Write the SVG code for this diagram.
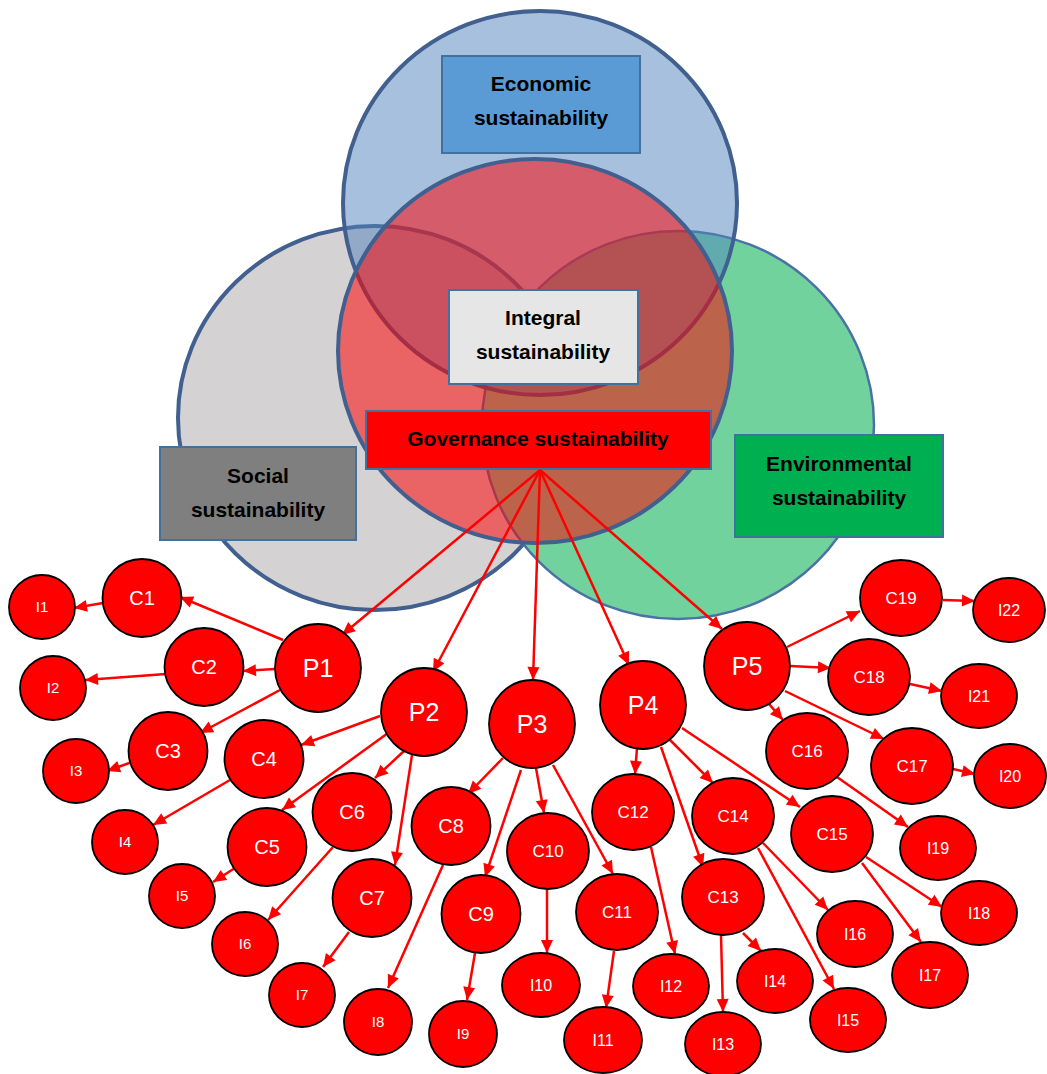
<svg xmlns="http://www.w3.org/2000/svg" width="1047" height="1074" viewBox="0 0 1047 1074">
<style>
.ell{stroke:#41608F;stroke-width:4}
.box{stroke:#41719C;stroke-width:2}
.bt{font-family:"Liberation Sans",Arial,sans-serif;font-weight:bold;font-size:21px;fill:#000;text-anchor:middle}
.n{fill:#FF0000;stroke:#000;stroke-width:1.8}
.nt{font-family:"Liberation Sans",Arial,sans-serif;fill:#fff;text-anchor:middle}
.p{font-size:25px}.c{font-size:20px}.cs{font-size:17px}.i{font-size:15px}.is{font-size:16px}
.e line{stroke:#FF0000;stroke-width:2.5;marker-end:url(#ah)}
</style>
<defs>
<marker id="ah" markerUnits="userSpaceOnUse" markerWidth="14" markerHeight="12" refX="13" refY="6" orient="auto" overflow="visible">
<path d="M0,0 L13,6 L0,12 z" fill="#FF0000"/>
</marker>
</defs>
<rect width="1047" height="1074" fill="#fff"/>
<g id="venn">
<ellipse id="social-circle" class="ell" cx="375" cy="418" rx="197" ry="192" fill="#D4D2D3"/>
<ellipse id="env-circle" cx="678" cy="425" rx="196" ry="194" fill="#72D29E" stroke="#4A72A5" stroke-width="2.5"/>
<ellipse id="econ-circle" class="ell" cx="540" cy="203" rx="197" ry="192" fill="#4F81BD" fill-opacity="0.5"/>
<ellipse id="gov-circle" class="ell" cx="535" cy="351" rx="197" ry="192" fill="#FF0000" fill-opacity="0.52"/>
</g>
<g id="economic"><rect class="box" x="442" y="56" width="198" height="97" fill="#5B9BD5"/><text class="bt" x="541" y="91">Economic</text><text class="bt" x="541" y="125">sustainability</text></g>
<g id="integral"><rect class="box" x="449" y="290" width="189" height="94" fill="#E7E6E6"/><text class="bt" x="543" y="325">Integral</text><text class="bt" x="543" y="359">sustainability</text></g>
<g id="governance"><rect class="box" x="366" y="411" width="345" height="58" fill="#FF0000"/><text class="bt" x="538" y="446">Governance sustainability</text></g>
<g id="social"><rect class="box" x="160" y="447" width="196" height="93" fill="#7F7F7F"/><text class="bt" x="258" y="483">Social</text><text class="bt" x="258" y="517">sustainability</text></g>
<g id="environmental"><rect class="box" x="735" y="435" width="208" height="102" fill="#00B050"/><text class="bt" x="839" y="471">Environmental</text><text class="bt" x="839" y="505">sustainability</text></g>
<g id="connectors" class="e">
<line x1="540" y1="470" x2="342" y2="635"/>
<line x1="540" y1="470" x2="433" y2="672"/>
<line x1="540" y1="470" x2="533" y2="680"/>
<line x1="540" y1="470" x2="629" y2="665"/>
<line x1="540" y1="470" x2="722" y2="629"/>
<line x1="283" y1="640" x2="180" y2="597"/>
<line x1="103" y1="603" x2="74" y2="608"/>
<line x1="275" y1="669" x2="243" y2="671"/>
<line x1="166" y1="674" x2="85" y2="680"/>
<line x1="280" y1="690" x2="200" y2="733"/>
<line x1="132" y1="762" x2="107" y2="771"/>
<line x1="380" y1="716" x2="301" y2="745"/>
<line x1="230" y1="780" x2="153" y2="825"/>
<line x1="388" y1="733" x2="282" y2="810"/>
<line x1="404" y1="751" x2="375" y2="778"/>
<line x1="412" y1="755" x2="395" y2="865"/>
<line x1="235" y1="868" x2="213" y2="882"/>
<line x1="333" y1="847" x2="268" y2="920"/>
<line x1="349" y1="932" x2="323" y2="967"/>
<line x1="443" y1="865" x2="388" y2="988"/>
<line x1="475" y1="953" x2="467" y2="1000"/>
<line x1="503" y1="758" x2="468" y2="794"/>
<line x1="521" y1="770" x2="485" y2="877"/>
<line x1="536" y1="768" x2="544" y2="813"/>
<line x1="553" y1="765" x2="613" y2="874"/>
<line x1="547" y1="889" x2="547" y2="953"/>
<line x1="614" y1="951" x2="606" y2="1008"/>
<line x1="637" y1="748" x2="635" y2="774"/>
<line x1="651" y1="847" x2="675" y2="954"/>
<line x1="661" y1="747" x2="703" y2="867"/>
<line x1="670" y1="740" x2="713" y2="783"/>
<line x1="682" y1="728" x2="800" y2="807"/>
<line x1="721" y1="935" x2="723" y2="1012"/>
<line x1="743" y1="933" x2="761" y2="951"/>
<line x1="758" y1="848" x2="834" y2="989"/>
<line x1="763" y1="843" x2="828" y2="910"/>
<line x1="862" y1="863" x2="921" y2="942"/>
<line x1="866" y1="857" x2="942" y2="907"/>
<line x1="769" y1="704" x2="783" y2="720"/>
<line x1="785" y1="691" x2="884" y2="739"/>
<line x1="790" y1="666" x2="831" y2="668"/>
<line x1="787" y1="647" x2="860" y2="611"/>
<line x1="837" y1="777" x2="908" y2="827"/>
<line x1="953" y1="769" x2="975" y2="774"/>
<line x1="910" y1="684" x2="942" y2="691"/>
<line x1="943" y1="600" x2="975" y2="601"/>
</g>
<g id="P1"><ellipse class="n" cx="318" cy="668" rx="43" ry="44"/><text class="nt p" x="318" y="677">P1</text></g>
<g id="P2"><ellipse class="n" cx="424" cy="712" rx="43" ry="44"/><text class="nt p" x="424" y="721">P2</text></g>
<g id="P3"><ellipse class="n" cx="532" cy="724" rx="43" ry="44"/><text class="nt p" x="532" y="733">P3</text></g>
<g id="P4"><ellipse class="n" cx="643" cy="705" rx="43" ry="44"/><text class="nt p" x="643" y="714">P4</text></g>
<g id="P5"><ellipse class="n" cx="747" cy="666" rx="43" ry="44"/><text class="nt p" x="747" y="675">P5</text></g>
<g id="C1"><ellipse class="n" cx="142" cy="598" rx="39.5" ry="39"/><text class="nt c" x="142" y="605">C1</text></g>
<g id="C2"><ellipse class="n" cx="204" cy="667" rx="39.5" ry="39"/><text class="nt c" x="204" y="674">C2</text></g>
<g id="C3"><ellipse class="n" cx="168" cy="751" rx="39.5" ry="39"/><text class="nt c" x="168" y="758">C3</text></g>
<g id="C4"><ellipse class="n" cx="264" cy="759" rx="39.5" ry="39"/><text class="nt c" x="264" y="766">C4</text></g>
<g id="C5"><ellipse class="n" cx="267" cy="847" rx="39.5" ry="39"/><text class="nt c" x="267" y="854">C5</text></g>
<g id="C6"><ellipse class="n" cx="352" cy="812" rx="39.5" ry="39"/><text class="nt c" x="352" y="819">C6</text></g>
<g id="C7"><ellipse class="n" cx="372" cy="898" rx="39.5" ry="39"/><text class="nt c" x="372" y="905">C7</text></g>
<g id="C8"><ellipse class="n" cx="451" cy="826" rx="39.5" ry="39"/><text class="nt c" x="451" y="833">C8</text></g>
<g id="C9"><ellipse class="n" cx="481" cy="914" rx="39.5" ry="39"/><text class="nt c" x="481" y="921">C9</text></g>
<g id="C10"><ellipse class="n" cx="548" cy="851" rx="41" ry="38"/><text class="nt cs" x="548" y="857">C10</text></g>
<g id="C11"><ellipse class="n" cx="617" cy="912" rx="41" ry="38"/><text class="nt cs" x="617" y="918">C11</text></g>
<g id="C12"><ellipse class="n" cx="633" cy="812" rx="41" ry="38"/><text class="nt cs" x="633" y="818">C12</text></g>
<g id="C13"><ellipse class="n" cx="723" cy="897" rx="41" ry="38"/><text class="nt cs" x="723" y="903">C13</text></g>
<g id="C14"><ellipse class="n" cx="733" cy="816" rx="41" ry="38"/><text class="nt cs" x="733" y="822">C14</text></g>
<g id="C15"><ellipse class="n" cx="832" cy="834" rx="41" ry="38"/><text class="nt cs" x="832" y="840">C15</text></g>
<g id="C16"><ellipse class="n" cx="807" cy="751" rx="41" ry="38"/><text class="nt cs" x="807" y="757">C16</text></g>
<g id="C17"><ellipse class="n" cx="912" cy="766" rx="41" ry="38"/><text class="nt cs" x="912" y="772">C17</text></g>
<g id="C18"><ellipse class="n" cx="869" cy="677" rx="41" ry="38"/><text class="nt cs" x="869" y="683">C18</text></g>
<g id="C19"><ellipse class="n" cx="901" cy="598" rx="41" ry="38"/><text class="nt cs" x="901" y="604">C19</text></g>
<g id="I1"><ellipse class="n" cx="42" cy="607" rx="33" ry="32"/><text class="nt i" x="42" y="612">I1</text></g>
<g id="I2"><ellipse class="n" cx="53" cy="688" rx="33" ry="32"/><text class="nt i" x="53" y="693">I2</text></g>
<g id="I3"><ellipse class="n" cx="76" cy="771" rx="33" ry="32"/><text class="nt i" x="76" y="776">I3</text></g>
<g id="I4"><ellipse class="n" cx="125" cy="842" rx="33" ry="32"/><text class="nt i" x="125" y="847">I4</text></g>
<g id="I5"><ellipse class="n" cx="182" cy="896" rx="33" ry="32"/><text class="nt i" x="182" y="901">I5</text></g>
<g id="I6"><ellipse class="n" cx="245" cy="944" rx="33" ry="32"/><text class="nt i" x="245" y="949">I6</text></g>
<g id="I7"><ellipse class="n" cx="302" cy="995" rx="33" ry="32"/><text class="nt i" x="302" y="1000">I7</text></g>
<g id="I8"><ellipse class="n" cx="378" cy="1022" rx="34" ry="33"/><text class="nt i" x="378" y="1027">I8</text></g>
<g id="I9"><ellipse class="n" cx="463" cy="1034" rx="34" ry="33"/><text class="nt i" x="463" y="1039">I9</text></g>
<g id="I10"><ellipse class="n" cx="541" cy="985" rx="39" ry="32"/><text class="nt is" x="541" y="991">I10</text></g>
<g id="I11"><ellipse class="n" cx="603" cy="1040" rx="39" ry="33"/><text class="nt is" x="603" y="1046">I11</text></g>
<g id="I12"><ellipse class="n" cx="671" cy="986" rx="38" ry="32"/><text class="nt is" x="671" y="992">I12</text></g>
<g id="I13"><ellipse class="n" cx="723" cy="1044" rx="38" ry="32"/><text class="nt is" x="723" y="1050">I13</text></g>
<g id="I14"><ellipse class="n" cx="775" cy="981" rx="38" ry="32"/><text class="nt is" x="775" y="987">I14</text></g>
<g id="I15"><ellipse class="n" cx="848" cy="1020" rx="38" ry="32"/><text class="nt is" x="848" y="1026">I15</text></g>
<g id="I16"><ellipse class="n" cx="855" cy="934" rx="38" ry="33"/><text class="nt is" x="855" y="940">I16</text></g>
<g id="I17"><ellipse class="n" cx="930" cy="975" rx="38" ry="33"/><text class="nt is" x="930" y="981">I17</text></g>
<g id="I18"><ellipse class="n" cx="979" cy="913" rx="38" ry="32"/><text class="nt is" x="979" y="919">I18</text></g>
<g id="I19"><ellipse class="n" cx="938" cy="848" rx="38" ry="32"/><text class="nt is" x="938" y="854">I19</text></g>
<g id="I20"><ellipse class="n" cx="1010" cy="776" rx="36" ry="32"/><text class="nt is" x="1010" y="782">I20</text></g>
<g id="I21"><ellipse class="n" cx="979" cy="696" rx="38" ry="32"/><text class="nt is" x="979" y="702">I21</text></g>
<g id="I22"><ellipse class="n" cx="1009" cy="610" rx="36" ry="32"/><text class="nt is" x="1009" y="616">I22</text></g>
</svg>
